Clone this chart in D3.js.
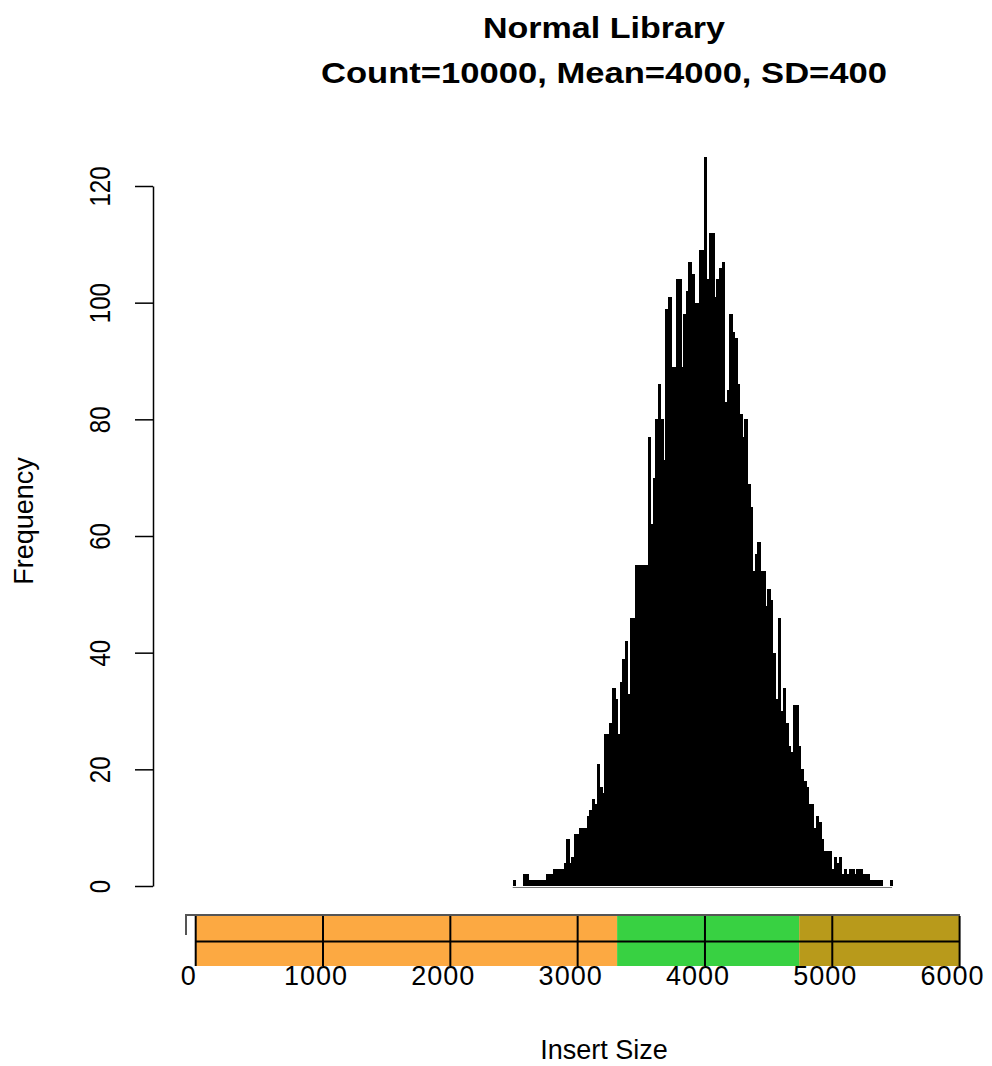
<html>
<head>
    <script type="text/javascript" src="https://d3js.org/d3.v7.min.js"></script>
    <style>
        body { margin: 0; background: #fff; }
        text { font-family: "Liberation Sans", Arial, sans-serif; fill: #000; }
    </style>
</head>
<body>
    <div id="viz"></div>
    <script type="text/javascript">

    // histogram counts, bins of 20 starting at 2490
    var binStart = 2490;
    var binWidth = 20;
    var counts = [
        1, 0, 0, 0, 2, 2, 1, 1, 1, 1,
        1, 1, 1, 2, 2, 2, 3, 3, 3, 3,
        4, 8, 4, 5, 9, 9, 10, 10, 10, 12,
        13, 15, 14, 21, 17, 16, 26, 26, 28, 34,
        32, 26, 35, 39, 42, 33, 46, 46, 55, 55,
        55, 55, 55, 77, 62, 70, 80, 86, 80, 73,
        99, 101, 89, 89, 104, 104, 89, 98, 102, 107,
        105, 100, 100, 109, 109, 125, 104, 112, 112, 101,
        104, 106, 107, 83, 85, 98, 95, 94, 86, 81,
        77, 80, 69, 65, 54, 57, 59, 54, 54, 48,
        51, 49, 40, 32, 46, 30, 34, 28, 24, 23,
        31, 31, 24, 20, 18, 17, 14, 14, 10, 12,
        11, 8, 6, 6, 6, 3, 5, 4, 5, 2,
        3, 2, 3, 3, 2, 3, 3, 2, 2, 2,
        1, 1, 1, 1, 1, 0, 0, 0, 1
    ];
    var yTicks = [0, 20, 40, 60, 80, 100, 120];
    var xTicks = [0, 1000, 2000, 3000, 4000, 5000, 6000];
    var bandBreaks = [0, 3310, 4740, 6000];
    var bandColors = ["#fca942", "#38d142", "#b89a1b"];
    var titleLines = ["Normal Library", "Count=10000, Mean=4000, SD=400"];
    var yLabel = "Frequency";
    var xLabel = "Insert Size";

    var svg = d3.select("#viz")
        .append("svg")
        .attr("width", 992)
        .attr("height", 1066);

    var x = d3.scaleLinear().domain([0, 6000]).range([195.7, 959.6]);
    var y = d3.scaleLinear().domain([0, 120]).range([886, 186]);

    var bins = counts.map(function(c, i) {
        return { x0: binStart + i * binWidth, x1: binStart + (i + 1) * binWidth, n: c };
    });

    // title
    svg.selectAll(".title")
        .data(titleLines)
        .enter().append("text")
        .attr("class", "title")
        .attr("x", 604)
        .attr("y", function(d, i) { return i == 0 ? 38 : 83; })
        .attr("text-anchor", "middle")
        .attr("font-weight", "bold")
        .attr("font-size", 30)
        .attr("textLength", function(d, i) { return i == 0 ? 242 : 566; })
        .attr("lengthAdjust", "spacingAndGlyphs")
        .text(function(d) { return d; });

    // bars (a little overlap so no seams show between them)
    svg.append("g")
        .attr("shape-rendering", "crispEdges")
        .selectAll("rect")
        .data(bins)
        .enter().append("rect")
        .attr("x", function(d) { return x(d.x0); })
        .attr("width", function(d) { return x(d.x1) - x(d.x0) + 1; })
        .attr("y", function(d) { return y(d.n); })
        .attr("height", function(d) { return y(0) - y(d.n); })
        .attr("fill", "#000");

    svg.append("line")
        .attr("x1", x(binStart))
        .attr("x2", x(binStart + counts.length * binWidth))
        .attr("y1", 887.5).attr("y2", 887.5)
        .attr("stroke", "#777")
        .attr("stroke-width", 1);

    // y axis
    var yAxis = svg.append("g")
        .attr("transform", "translate(153,0)")
        .call(d3.axisLeft(y).tickValues(yTicks).tickSize(18).tickSizeOuter(0));
    yAxis.select(".domain").attr("stroke", "#000").attr("stroke-width", 1.5);
    yAxis.selectAll(".tick line").attr("stroke", "#000").attr("stroke-width", 1.5);
    yAxis.selectAll(".tick text")
        .attr("x", 0)
        .attr("dy", 0)
        .attr("text-anchor", "middle")
        .attr("font-size", 24)
        .attr("fill", "#000")
        .attr("transform", "translate(-43,0) scale(1.2,1) rotate(-90)");

    svg.append("text")
        .attr("transform", "translate(33,521) rotate(-90)")
        .attr("text-anchor", "middle")
        .attr("font-size", 27)
        .text(yLabel);

    // colour strip under the histogram
    var strip = svg.append("g");
    strip.selectAll("rect")
        .data(bandColors)
        .enter().append("rect")
        .attr("x", function(d, i) { return x(bandBreaks[i]); })
        .attr("width", function(d, i) { return x(bandBreaks[i + 1]) - x(bandBreaks[i]); })
        .attr("y", 916)
        .attr("height", 50)
        .attr("fill", function(d) { return d; });

    strip.append("line")
        .attr("x1", x(0)).attr("x2", x(6000))
        .attr("y1", 941.5).attr("y2", 941.5)
        .attr("stroke", "#000").attr("stroke-width", 2);

    strip.selectAll(".vline")
        .data(xTicks)
        .enter().append("line")
        .attr("class", "vline")
        .attr("x1", function(d) { return x(d); })
        .attr("x2", function(d) { return x(d); })
        .attr("y1", 916).attr("y2", 966)
        .attr("stroke", "#000").attr("stroke-width", 2);

    strip.append("path")
        .attr("d", "M186,935V915H960")
        .attr("fill", "none")
        .attr("stroke", "#555")
        .attr("stroke-width", 2);

    strip.selectAll(".xlab")
        .data(xTicks)
        .enter().append("text")
        .attr("class", "xlab")
        .attr("x", function(d) { return x(d) - 7; })
        .attr("y", 985)
        .attr("text-anchor", "middle")
        .attr("font-size", 27)
        .attr("letter-spacing", 1)
        .text(function(d) { return d; });

    svg.append("text")
        .attr("x", 604)
        .attr("y", 1059)
        .attr("text-anchor", "middle")
        .attr("font-size", 27)
        .text(xLabel);

    </script>
</body>
</html>
